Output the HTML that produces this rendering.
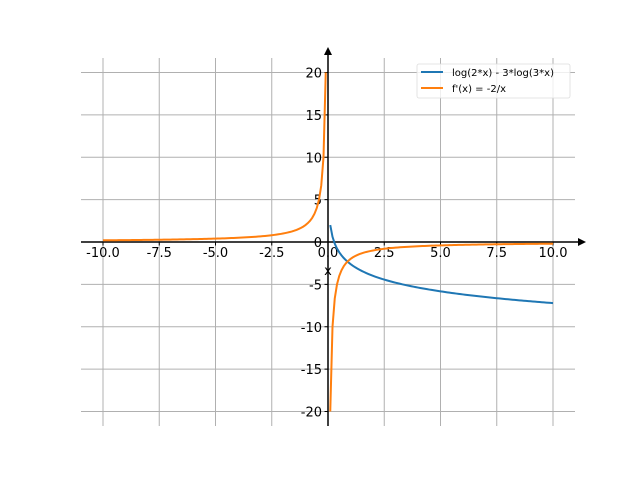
<!DOCTYPE html><html><head><style>body{margin:0;background:#fff}svg{display:block}text{font-family:"DejaVu Sans","Liberation Sans",sans-serif}</style></head><body>
<svg id="s" width="640" height="480" xmlns="http://www.w3.org/2000/svg"></svg>
<script>
var s=document.getElementById('s'),h='';
function X(x){return 328+22.5*x}function Y(y){return 242-8.475*y}
[-10,-7.5,-5,-2.5,0,2.5,5,7.5,10].forEach(function(t){h+='<line x1="'+X(t)+'" x2="'+X(t)+'" y1="58" y2="426" stroke="#b0b0b0" stroke-width="1"/>';
h+='<line x1="'+X(t)+'" x2="'+X(t)+'" y1="242" y2="245.5" stroke="#000" stroke-width="1"/>';
h+='<text x="'+X(t)+'" y="257" font-size="13" text-anchor="middle">'+t.toFixed(1)+'</text>';});
[-20,-15,-10,-5,0,5,10,15,20].forEach(function(t){h+='<line x1="81" x2="575" y1="'+Y(t)+'" y2="'+Y(t)+'" stroke="#b0b0b0" stroke-width="1"/>';
h+='<line x1="324.5" x2="328" y1="'+Y(t)+'" y2="'+Y(t)+'" stroke="#000" stroke-width="1"/>';
h+='<text x="322" y="'+(Y(t)+5)+'" font-size="13" text-anchor="end">'+t+'</text>';});
h+='<line x1="81" x2="580" y1="242" y2="242" stroke="#000" stroke-width="1.5"/><path d="M586,242 L578,238 L578,246Z"/>';
h+='<line x1="328" x2="328" y1="426" y2="54" stroke="#000" stroke-width="1.5"/><path d="M328,47 L324,55 L332,55Z"/>';
h+='<text x="328" y="275" font-size="13" text-anchor="middle">x</text>';
var N=100,p='';for(var i=0;i<N;i++){var x=0.1+9.9*i/(N-1);p+=(i?'L':'M')+X(x).toFixed(2)+','+Y(Math.log(2*x)-3*Math.log(3*x)).toFixed(2);}
h+='<path d="'+p+'" fill="none" stroke="#1f77b4" stroke-width="2"/>';
p='';for(i=0;i<N;i++){x=-10+9.9*i/(N-1);p+=(i?'L':'M')+X(x).toFixed(2)+','+Y(-2/x).toFixed(2);}
h+='<path d="'+p+'" fill="none" stroke="#ff7f0e" stroke-width="2"/>';
p='';for(i=0;i<N;i++){x=0.1+9.9*i/(N-1);p+=(i?'L':'M')+X(x).toFixed(2)+','+Y(-2/x).toFixed(2);}
h+='<path d="'+p+'" fill="none" stroke="#ff7f0e" stroke-width="2"/>';
h+='<rect x="417" y="64" width="153" height="34" rx="2" fill="#fff" fill-opacity="0.8" stroke="#ddd" stroke-width="0.8"/>';
h+='<line x1="421" x2="443" y1="72" y2="72" stroke="#1f77b4" stroke-width="2"/><text x="452" y="76" font-size="10">log(2*x) - 3*log(3*x)</text>';
h+='<line x1="421" x2="443" y1="88" y2="88" stroke="#ff7f0e" stroke-width="2"/><text x="452" y="92" font-size="10">f\'(x) = -2/x</text>';
s.innerHTML=h;
</script></body></html>
